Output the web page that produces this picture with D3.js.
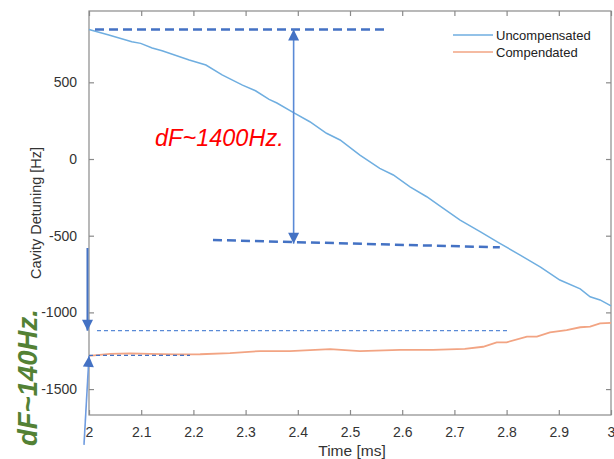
<!DOCTYPE html>
<html>
<head>
<meta charset="utf-8">
<script src="https://cdn.jsdelivr.net/npm/d3@7"></script>
<style>
  body { margin: 0; background: #fff; }
  text { font-family: Arial, "Liberation Sans", sans-serif; }
</style>
</head>
<body>
<script>
// series
var timeUncomp = [2.000, 2.038, 2.082, 2.099, 2.121, 2.140, 2.192, 2.224, 2.255, 2.294, 2.319, 2.345,
  2.360, 2.391, 2.423, 2.455, 2.481, 2.519, 2.557, 2.583, 2.615, 2.647, 2.672, 2.711, 2.750, 2.787,
  2.826, 2.865, 2.902, 2.941, 2.960, 2.979, 3.000];
var detUncomp = [845, 808, 765, 754, 724, 706, 645, 613, 548, 482, 445, 389,
  365, 304, 243, 168, 124, 26, -61, -104, -181, -246, -306, -398, -475, -550,
  -626, -705, -789, -847, -898, -919, -958];

var timeComp = [2.000, 2.040, 2.079, 2.117, 2.165, 2.213, 2.270, 2.328, 2.385, 2.462, 2.519, 2.596,
  2.659, 2.720, 2.755, 2.781, 2.800, 2.839, 2.858, 2.883, 2.915, 2.941, 2.960, 2.979, 3.000];
var detComp = [-1284, -1271, -1267, -1271, -1274, -1273, -1265, -1252, -1252, -1239, -1252, -1245,
  -1245, -1238, -1224, -1195, -1195, -1158, -1158, -1130, -1115, -1097, -1093, -1071, -1069];

var xTicks = [2, 2.1, 2.2, 2.3, 2.4, 2.5, 2.6, 2.7, 2.8, 2.9, 3];
var yTicks = [500, 0, -500, -1000, -1500];
var seriesNames = ["Uncompensated", "Compendated"];

// annotation anchors in data units [t, Hz]
var bigTop = [[2.0115, 844], [2.573, 844]];
var bigBottom = [[2.2375, -528], [2.787, -576]];
var bigArrow = [[2.392, 844], [2.392, -552]];
var smallTop = [[2.0153, -1119], [2.8008, -1119]];
var smallBottom = [[2.0, -1280], [2.1935, -1280]];
var smallArrowDown = [[1.9971, -580], [1.9971, -1119]];
var smallArrowUp = [[1.9904, -1864], [2.0, -1284]];

var svgWidth = 614;
var svgHeight = 459;
var margin = { top: 11, right: 3, bottom: 44, left: 89 };
var width = svgWidth - margin.left - margin.right;
var height = svgHeight - margin.top - margin.bottom;

var svg = d3.select("body").append("svg")
  .attr("width", svgWidth)
  .attr("height", svgHeight);

var g = svg.append("g")
  .attr("transform", `translate(${margin.left}, ${margin.top})`);

var x = d3.scaleLinear().domain([2, 3]).range([0, width]);
var y = d3.scaleLinear().domain([-1669, 965]).range([height, 0]);

var axisColor = "#8a8a8a";
var labelColor = "#333";

// box
g.append("rect")
  .attr("width", width).attr("height", height)
  .attr("fill", "none").attr("stroke", axisColor).attr("stroke-width", 1.2);

function styleAxis(sel, showText) {
  sel.select(".domain").remove();
  sel.selectAll(".tick line").attr("stroke", axisColor).attr("stroke-width", 1.2);
  sel.selectAll(".tick text")
    .attr("fill", labelColor)
    .style("font-size", "14px")
    .style("display", showText ? null : "none");
}

var plain = d => String(d);

g.append("g")
  .attr("transform", `translate(0, ${height})`)
  .call(d3.axisBottom(x).tickValues(xTicks).tickSizeInner(-5).tickPadding(12).tickFormat(plain))
  .call(sel => styleAxis(sel, true));

g.append("g")
  .call(d3.axisTop(x).tickValues(xTicks).tickSizeInner(-5))
  .call(sel => styleAxis(sel, false));

g.append("g")
  .call(d3.axisLeft(y).tickValues(yTicks).tickSizeInner(-5).tickPadding(12).tickFormat(plain))
  .call(sel => styleAxis(sel, true));

g.append("g")
  .attr("transform", `translate(${width}, 0)`)
  .call(d3.axisRight(y).tickValues(yTicks).tickSizeInner(-5))
  .call(sel => styleAxis(sel, false));

// axis titles
g.append("text")
  .attr("x", width / 2 + 2)
  .attr("y", height + 41)
  .attr("text-anchor", "middle")
  .attr("fill", labelColor)
  .style("font-size", "15.5px")
  .text("Time [ms]");

g.append("text")
  .attr("transform", "rotate(-90)")
  .attr("x", -height / 2)
  .attr("y", -48)
  .attr("text-anchor", "middle")
  .attr("fill", labelColor)
  .style("font-size", "14.5px")
  .text("Cavity Detuning [Hz]");

// lines
var line = d3.line().x(d => x(d[0])).y(d => y(d[1]));
var uncompData = timeUncomp.map((t, i) => [t, detUncomp[i]]);
var compData = timeComp.map((t, i) => [t, detComp[i]]);
var colors = ["#6FAEE0", "#F2A483"];

g.append("path").datum(uncompData)
  .attr("d", line).attr("fill", "none")
  .attr("stroke", colors[0]).attr("stroke-width", 1.5);

g.append("path").datum(compData)
  .attr("d", line).attr("fill", "none")
  .attr("stroke", colors[1]).attr("stroke-width", 1.8);

// legend
var legend = g.append("g").attr("transform", `translate(${453 - margin.left}, ${35 - margin.top})`);
seriesNames.forEach(function(name, i) {
  legend.append("line")
    .attr("x1", 0).attr("x2", 40)
    .attr("y1", i * 17).attr("y2", i * 17)
    .attr("stroke", colors[i]).attr("stroke-width", 1.5);
  legend.append("text")
    .attr("x", 43).attr("y", i * 17 + 4.5)
    .attr("fill", "#222")
    .style("font-size", "13px")
    .text(name);
});

// annotations
function seg(pts, w, dash, color) {
  var p = g.append("path").datum(pts)
    .attr("d", line).attr("fill", "none")
    .attr("stroke", color).attr("stroke-width", w);
  if (dash) p.attr("stroke-dasharray", dash);
  return p;
}

// triangle head with its tip on pts[1], pointing away from pts[0]
function head(pts, color) {
  var x0 = x(pts[0][0]), y0 = y(pts[0][1]);
  var x1 = x(pts[1][0]), y1 = y(pts[1][1]);
  var ang = Math.atan2(y1 - y0, x1 - x0) * 180 / Math.PI;
  g.append("path")
    .attr("d", "M0,0L-11,-5.5L-11,5.5Z")
    .attr("transform", `translate(${x1}, ${y1}) rotate(${ang})`)
    .attr("fill", color);
}

seg(bigTop, 2.5, "9,5", "#4472C4");
seg(bigBottom, 2.5, "9,5", "#4472C4");
seg(bigArrow, 1.6, null, "#5A8AD6");
head(bigArrow, "#4472C4");
head([bigArrow[1], bigArrow[0]], "#4472C4");
seg(smallTop, 1.4, "4,3", "#5A8AD6");
seg(smallBottom, 1.4, "4,3", "#4472C4");
seg(smallArrowDown, 2, null, "#4472C4");
head(smallArrowDown, "#4472C4");
seg(smallArrowUp, 1.6, null, "#6F9CE0");
head(smallArrowUp, "#4472C4");

svg.append("text")
  .attr("x", 155).attr("y", 146)
  .attr("fill", "#FF0000")
  .style("font-size", "23.5px")
  .style("font-style", "italic")
  .text("dF~1400Hz.");

svg.append("text")
  .attr("transform", "translate(37, 446) rotate(-90)")
  .attr("fill", "#538135")
  .style("font-size", "27.5px")
  .style("font-style", "italic")
  .style("font-weight", "bold")
  .text("dF~140Hz.");
</script>
</body>
</html>
